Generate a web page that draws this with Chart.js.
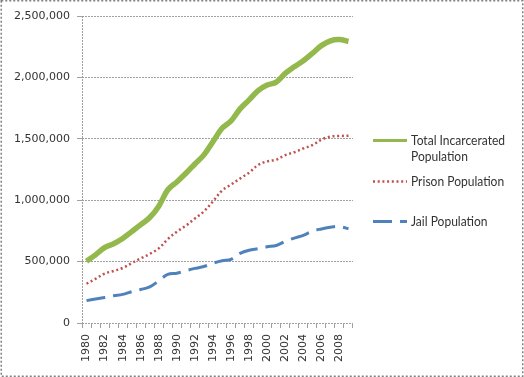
<!DOCTYPE html>
<html>
<head>
<meta charset="utf-8">
<script src="https://cdn.jsdelivr.net/npm/chart.js@4/dist/chart.umd.min.js"></script>
<style>
html,body{margin:0;padding:0;background:#fff;}
#wrap{position:relative;width:524px;height:377px;}
</style>
</head>
<body>
<div id="wrap"><canvas id="c" width="524" height="377"></canvas></div>
<script>
const years = ['1980','1981','1982','1983','1984','1985','1986','1987','1988','1989','1990','1991','1992','1993','1994','1995','1996','1997','1998','1999','2000','2001','2002','2003','2004','2005','2006','2007','2008','2009'];
const totalPop = [503586,555114,614180,645700,688300,744208,800600,858900,951400,1085000,1148702,1219014,1295150,1369185,1476621,1585586,1646020,1743643,1816931,1893115,1937482,1961247,2033022,2086442,2135335,2195873,2258792,2298041,2308385,2292133];
const prisonPop = [319598,360029,402914,423898,448264,487593,526436,562814,607766,683367,743382,792535,850566,909381,990147,1078542,1127528,1176922,1224469,1287172,1316333,1330007,1367547,1390279,1421345,1448344,1492973,1517867,1522834,1524513];
const jailPop = [182288,195085,207853,221815,233018,254986,272736,294092,343569,395553,405320,426479,444584,459804,486474,507044,518492,567079,592462,605943,621149,631240,665475,691301,713990,747529,765819,780174,785556,767620];
const yTicks = [0,500000,1000000,1500000,2000000,2500000];
const legendLines = [['Total Incarcerated','Population'],['Prison Population'],['Jail Population']];

const GREEN = '#93b94c', RED = '#c0504d', BLUE = '#4f81bd';
const tickFont = {family:'DejaVu Sans', size:11};

const frame = {
  id:'frame',
  beforeDraw(chart){
    const ctx = chart.ctx;
    ctx.save();
    ctx.fillStyle = '#fff';
    ctx.fillRect(0,0,chart.width,chart.height);
    ctx.restore();
  },
  afterDraw(chart){
    const ctx = chart.ctx;
    ctx.save();
    // outer dotted border
    ctx.strokeStyle = '#808080';
    ctx.lineWidth = 1.5;
    ctx.setLineDash([2,2]);
    ctx.strokeRect(1.25,0.75,521.5,375.5);
    // legend
    const x0 = 373, x1 = 407, tx = 411;
    const ys = [140,181,221];
    ctx.font = '14px Lato';
    ctx.fillStyle = '#333';
    ctx.textBaseline = 'middle';
    chart.data.datasets.forEach((ds,i)=>{
      ctx.beginPath();
      ctx.strokeStyle = ds.borderColor;
      ctx.lineWidth = i===0 ? 3 : ds.borderWidth;
      ctx.setLineDash(ds.borderDash || []);
      ctx.lineCap = 'butt';
      ctx.moveTo(x0, ys[i]+0.5);
      ctx.lineTo(x1, ys[i]+0.5);
      ctx.stroke();
      legendLines[i].forEach((t,j)=>{
        ctx.save();
        ctx.translate(tx, ys[i] + j*16);
        ctx.scale(0.86, 1);
        ctx.fillText(t, 0, 0);
        ctx.restore();
      });
    });
    ctx.restore();
  }
};

new Chart(document.getElementById('c'), {
  type:'line',
  data:{
    labels: years,
    datasets:[
      {label:'Total Incarcerated Population', data: totalPop, borderColor: GREEN, borderWidth:5.5, pointRadius:0, tension:0.35, fill:false},
      {label:'Prison Population', data: prisonPop, borderColor: RED, borderWidth:2.5, borderDash:[2,2.7], borderCapStyle:'butt', pointRadius:0, tension:0.35, fill:false},
      {label:'Jail Population', data: jailPop, borderColor: BLUE, borderWidth:3, borderDash:[19,8], pointRadius:0, tension:0.35, fill:false}
    ]
  },
  options:{
    responsive:false,
    animation:false,
    devicePixelRatio:1,
    layout:{padding:{left:0, right:171, top:16, bottom:0}},
    plugins:{legend:{display:false}, tooltip:{enabled:false}},
    scales:{
      x:{
        offset:true,
        grid:{offset:true, display:true, drawOnChartArea:true,
          color:(c)=> c.index===0 ? '#a0a0a0' : 'rgba(0,0,0,0)',
          tickColor:'#a0a0a0', tickLength:5, lineWidth:1},
        border:{display:false, dash:[2,1]},
        ticks:{autoSkip:false, maxRotation:90, minRotation:90, padding:6, color:'#333', font:tickFont,
          callback:function(v,i){ return i%2===0 ? this.getLabelForValue(v) : ''; }},
        afterFit:(s)=>{ s.height = 54; }
      },
      y:{
        min:0, max:2500000,
        afterBuildTicks:(s)=>{ s.ticks = yTicks.map(v=>({value:v})); },
        grid:{color:'#a0a0a0', tickColor:'#a0a0a0', tickLength:5, lineWidth:1},
        border:{display:false, dash:[2,1]},
        ticks:{padding:7, color:'#333', font:tickFont,
          callback:(v)=> Number(v).toLocaleString('en-US')},
        afterFit:(s)=>{ s.width = 82; }
      }
    }
  },
  plugins:[frame]
});
</script>
</body>
</html>
